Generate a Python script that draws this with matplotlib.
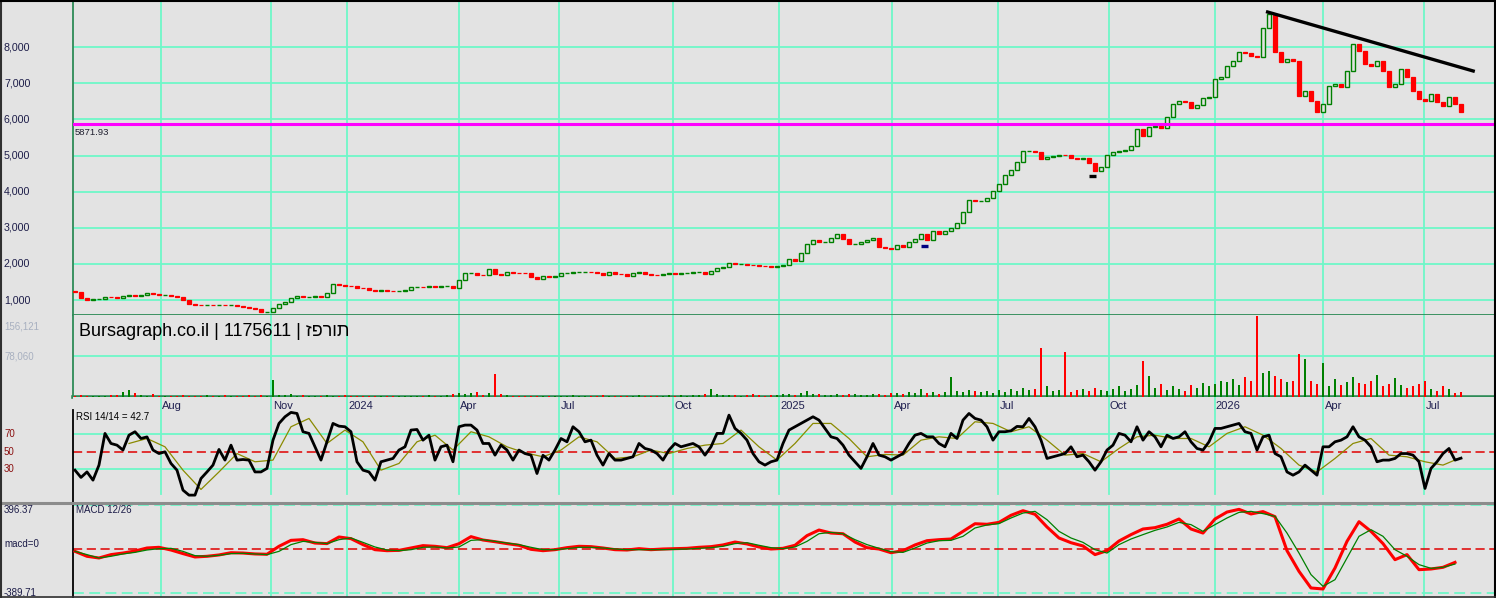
import numpy as np
import matplotlib
matplotlib.use("Agg")
import matplotlib.pyplot as plt
from matplotlib.lines import Line2D
from matplotlib.transforms import blended_transform_factory as btf

plt.rcParams['font.family'] = ['Liberation Sans', 'DejaVu Sans']

# ---------------- data ----------------
first_open = 1250
close = [
    1220, 1060, 1000, 1028, 1040, 1092, 1075, 1070, 1100, 1130,
    1120, 1150, 1184, 1160, 1138, 1138, 1115, 1080, 990, 880,
    855, 853, 860, 850, 855, 853, 860, 840, 810, 770,
    740, 680, 680, 770, 880, 950, 1060, 1120, 1092, 1092,
    1100, 1092, 1200, 1450, 1420, 1400, 1380, 1345, 1322, 1270,
    1260, 1280, 1250, 1248, 1260, 1270, 1368, 1368, 1360, 1380,
    1350, 1380, 1386, 1330, 1560, 1736, 1736, 1700, 1690, 1850,
    1720, 1700, 1780, 1754, 1750, 1736, 1640, 1590, 1660, 1644,
    1663, 1736, 1736, 1764, 1773, 1773, 1764, 1755, 1700, 1773,
    1718, 1708, 1672, 1745, 1773, 1718, 1690, 1681, 1727, 1736,
    1718, 1736, 1755, 1764, 1764, 1708, 1791, 1874, 1920, 2012,
    2003, 2003, 1966, 1957, 1938, 1929, 1920, 1929, 1975, 2123,
    2086, 2306, 2563, 2655, 2609, 2609, 2730, 2839, 2700, 2563,
    2563, 2609, 2675, 2730, 2471, 2453, 2400, 2517, 2471, 2609,
    2700, 2820, 2675, 2912, 2839, 2912, 3005, 3130, 3437, 3759,
    3730, 3740, 3832, 4017, 4220, 4450, 4605, 4817, 5120, 5120,
    5092, 4908, 4954, 4991, 5028, 5010, 4936, 4899, 4936, 4789,
    4568, 4679, 5028, 5092, 5120, 5157, 5276, 5736, 5552, 5782,
    5828, 5764, 6058, 6426, 6500, 6490, 6316, 6408, 6591, 6628,
    7116, 7180, 7484, 7622, 7852, 7824, 7760, 7714, 8541, 8909,
    7852, 7594, 7668, 7622, 6656, 6775, 6518, 6196, 6426, 6932,
    6978, 6904, 7346, 8081, 7898, 7530, 7484, 7603, 7327, 6904,
    6978, 7392, 7180, 6775, 6555, 6518, 6702, 6472, 6380, 6610,
    6426, 6196,
]
volume_k = [
    2, 3, 2, 1, 1, 2, 3, 4, 9, 13,
    7, 3, 2, 5, 2, 2, 1, 2, 3, 2,
    1, 2, 3, 1, 2, 3, 2, 1, 2, 4,
    2, 3, 2, 32, 4, 3, 5, 2, 3, 2,
    2, 1, 3, 2, 2, 3, 1, 2, 2, 1,
    2, 1, 2, 1, 2, 2, 1, 2, 2, 3,
    1, 2, 3, 6, 8, 5, 7, 10, 4, 8,
    43, 6, 3, 2, 1, 2, 2, 1, 2, 1,
    2, 1, 2, 3, 1, 2, 2, 1, 3, 2,
    1, 2, 2, 1, 3, 2, 1, 2, 2, 3,
    2, 3, 2, 4, 3, 5, 16, 6, 4, 3,
    3, 2, 4, 5, 3, 2, 3, 4, 6, 5,
    4, 7, 11, 6, 5, 4, 3, 5, 4, 6,
    5, 4, 3, 5, 6, 4, 7, 8, 6, 9,
    7, 15, 8, 10, 6, 9, 38, 12, 10, 14,
    12, 9, 11, 8, 13, 10, 16, 12, 18, 14,
    15, 93, 20, 12, 14, 86, 10, 13, 16, 12,
    18, 14, 11, 15, 20, 12, 16, 22, 69, 40,
    18, 25, 14, 20, 16, 12, 22, 18, 26, 20,
    24, 30, 28, 35, 22, 38, 30, 154, 45, 50,
    40, 35, 28, 30, 82, 72, 30, 25, 64, 20,
    35, 22, 28, 38, 26, 24, 30, 42, 20, 25,
    37, 22, 18, 20, 24, 30, 16, 12, 20, 15,
    8, 10,
]
rsi = [
    29, 20.7, 27, 17.6, 34.8, 71, 59.5, 57.6, 52, 69,
    72.9, 65.2, 67, 52, 48, 50, 36.7, 29, 6.2, 0.5,
    0.5, 19.5, 27, 34.8, 52.7, 40.5, 57.6, 40.5, 41.2, 40.5,
    27, 27, 31, 63.3, 82.4, 90, 95, 93.8, 72.9, 71,
    55.7, 40.5, 61.4, 82.4, 79.3, 78.6, 72.9, 38.6, 29, 27,
    17.6, 38.6, 40.5, 42.4, 52, 55.7, 74.8, 75.5, 63.3, 69,
    40.5, 55.7, 57.6, 38.6, 78.6, 80.5, 80.5, 74.8, 59.5, 59.5,
    46.2, 57.6, 52, 40.5, 52, 48, 46.2, 25.2, 46, 40.5,
    52, 65.2, 61.4, 78.6, 72.9, 61.4, 63.3, 46.2, 34.8, 48,
    40.5, 40.5, 42.4, 44.3, 59.5, 53.8, 52, 48, 40.5, 52,
    59.5, 55.7, 57.6, 59.5, 55.7, 46.2, 55.7, 71, 71, 91.9,
    76.7, 71, 63.3, 48, 38.6, 34.8, 38.6, 40.5, 59.5, 74.8,
    78.6, 82.4, 86.2, 90, 86.2, 76.7, 67.1, 65.2, 57.6, 46.2,
    38.6, 31, 44.3, 59.5, 46.2, 44.3, 40.5, 44.3, 48, 59.5,
    69, 71, 67.1, 67.1, 59.5, 55.7, 71, 65.2, 86.2, 93.8,
    88.1, 86.2, 78.6, 63.3, 72.9, 72.9, 74, 79, 78.6, 88.1,
    78.6, 63.3, 42.4, 44.3, 46.2, 48, 55.7, 44.3, 46.2, 38.6,
    29, 38.6, 52, 57.6, 71, 69, 61.4, 78.6, 63.3, 72.9,
    67.1, 55.7, 69, 65.2, 67.1, 72.9, 61.4, 53.8, 52, 61.4,
    76.7, 76.7, 78.6, 80.5, 82.4, 72.9, 71, 52, 67.1, 69,
    48, 44.3, 27, 23.3, 27, 34.8, 29, 23.3, 55.7, 55.7,
    61.4, 63.3, 67.1, 78.6, 67.1, 63.3, 55.7, 38.6, 40.5, 40.5,
    42.4, 48, 48, 46.2, 38.6, 8.1, 31, 38.6, 48, 53.8,
    40.5, 42.7,
]
# RSI signal: one value every 3rd bar, starting at bar 9
rsi_signal = [
    59.5, 65.2, 55.7, 29, 7, 27, 48, 38.6, 40.5, 78.6,
    88.1, 59.5, 74.8, 61.4, 29, 36.7, 61.4, 69, 52, 72.9,
    67.1, 55.7, 48.9, 44.3,
    52, 67.1, 61.4, 42.4, 44.3, 52, 48, 53.8, 57.6, 59.5,
    74.8, 55.7, 40.5, 59.5, 82.4, 82.4, 65.2, 44.3, 47, 46.2,
    63.3, 67.1, 65.2, 84.3, 82.4, 72.9,
    78.6, 63.3, 46.2, 48, 38.6, 53.8, 67.1, 69, 65.2, 65.2,
    55.7, 71, 78.6, 69, 53.8, 34.8, 27, 42.4, 59.5, 65.2,
    46.2, 44.3, 38.6, 34.8, 43.5,
]
# MACD and its signal: one value every 2nd bar
macd = [
    -19, -63, -78, -48, -34, -16, 11, 17, -7, -39,
    -69, -63, -51, -31, -34, -42, -45, 26, 79, 85,
    55, 50, 109, 94, 41, -4, -13, -10, 11, 32,
    26, 14, 49, 112, 82, 67, 50, 35, -1, -13,
    -4, 14, 26, 23, 11, -4, -7, 5, -4, 2,
    5, 8, 17, 23, 38, 64, 47, 20, 2, 8,
    35, 121, 171, 144, 138, 64, 14, 2, -31, -13,
    38, 76, 85, 91, 159, 227, 222, 239, 302, 343,
    311, 198, 100, 58, 29, -48, -13, 73, 130, 180,
    192, 222, 269, 180, 144, 269, 331, 355, 314, 335,
    290, -13, -197, -345, -354, -167, 70, 245, 159, 50,
    -93, -48, -182, -176, -161, -117,
]
macd_signal = [
    -19, -48, -78, -63, -42, -28, -7, 5, 8, -19,
    -57, -63, -54, -39, -36, -42, -48, -19, 41, 70,
    61, 50, 85, 100, 61, 20, -7, -13, -4, 17,
    20, 11, 20, 79, 85, 70, 55, 41, 17, -4,
    -4, 5, 17, 17, 11, 2, -4, -4, -4, -4,
    -1, 2, 8, 14, 26, 50, 58, 35, 14, 5,
    20, 70, 138, 150, 138, 85, 41, 8, -22, -28,
    11, 55, 76, 79, 115, 189, 216, 228, 278, 322,
    337, 263, 159, 100, 61, -4, -34, 41, 91, 130,
    168, 198, 239, 219, 159, 219, 278, 328, 337, 317,
    293, 144, -34, -226, -330, -271, -78, 115, 174, 115,
    -4, -63, -137, -170, -161, -132,
]
price_ticks = [1000, 2000, 3000, 4000, 5000, 6000, 7000, 8000]
support_level = 5871.93
trend_bar = [198.5, 233.3]
trend_price = [8985, 7327]
low_marks_bar = [141.0, 169.0]
low_marks_price = [2498, 4429]
low_marks_color = ['#000080', '#000000']
month_labels = ['Aug', 'Nov', '2024', 'Apr', 'Jul', 'Oct', '2025', 'Apr', 'Jul',
                'Oct', '2026', 'Apr', 'Jul']
month_pos = [14.28, 32.75, 45.38, 63.95, 80.72, 99.72, 117.38, 136.22, 153.88,
             172.28, 189.95, 208.05, 224.88]
vol_max = 156121
vol_mid = 78060
rsi_levels = [70, 50, 30]
macd_top, macd_bottom = 396.37, -389.71
# Hebrew name in logical order (the renderer lays it out right-to-left)
title = 'Bursagraph.co.il | 1175611 | זפרות'

# ---------------- styling ----------------
W, H = 1496, 598
BG = '#e3e3e3'
AQUA = '#6ef7c8'
GREEN = '#008000'
RED = '#ff0000'
DKGREEN = '#2e8b57'
NAVY = '#1c1c48'

fig = plt.figure(figsize=(W / 100, H / 100), dpi=100)
fig.patch.set_facecolor(BG)


def rect(x0, y0, x1, y1):
    return [x0 / W, 1 - y1 / H, (x1 - x0) / W, (y1 - y0) / H]


ax_p = fig.add_axes(rect(73, 1, 1494, 315))
ax_v = fig.add_axes(rect(73, 315, 1494, 397))
ax_r = fig.add_axes(rect(73, 397, 1494, 503))
ax_m = fig.add_axes(rect(73, 504, 1494, 597))

close = np.array(close, float)
n = len(close)
x = np.arange(n)
XL = (-0.33, 236.5)

for ax in (ax_p, ax_v, ax_r, ax_m):
    ax.set_facecolor(BG)
    ax.set_xlim(*XL)
    ax.set_xticks([])
    ax.set_yticks([])
    for s in ax.spines.values():
        s.set_visible(False)

# ---------------- price panel ----------------
ax_p.set_ylim(586, 9277)
for v in price_ticks:
    ax_p.axhline(v, color=AQUA, lw=1.3, zorder=0)
for m in month_pos:
    ax_p.axvline(m, color=AQUA, lw=1.3, zorder=0)

opens = np.r_[first_open, close[:-1]]
up = close >= opens
lo = np.minimum(opens, close)
hgt = np.abs(close - opens)
ax_p.bar(x[up], hgt[up], bottom=lo[up], width=0.78, facecolor=BG,
         edgecolor=GREEN, linewidth=1.0, zorder=3)
ax_p.bar(x[~up], hgt[~up], bottom=lo[~up], width=0.78, facecolor=RED,
         edgecolor=RED, linewidth=0.9, zorder=3)

ax_p.axhline(support_level, color='#ff00ff', lw=2.2, zorder=4)
ax_p.annotate(f'{support_level:.2f}', xy=(0, support_level),
              xycoords=btf(ax_p.transAxes, ax_p.transData),
              xytext=(2, -4), textcoords='offset pixels', va='top', ha='left',
              fontsize=6.8, color='#202030')
ax_p.plot(trend_bar, trend_price, color='black', lw=2.4, zorder=5,
          solid_capstyle='butt')
for b, p, c in zip(low_marks_bar, low_marks_price, low_marks_color):
    ax_p.plot([b, b + 1.1], [p, p], color=c, lw=2.4, zorder=5,
              solid_capstyle='butt')

ax_p.spines['left'].set_visible(True)
ax_p.spines['left'].set_color(DKGREEN)
ax_p.spines['left'].set_linewidth(1.3)
ax_p.spines['bottom'].set_visible(True)
ax_p.spines['bottom'].set_color(DKGREEN)
ax_p.spines['bottom'].set_linewidth(1.3)

tp = btf(fig.transFigure, ax_p.transData)
for v in price_ticks:
    fig.text(4 / W, v, f'{v:,}', transform=tp, va='center', ha='left',
             fontsize=7.7, color=NAVY)

# ---------------- volume panel ----------------
vol = np.array(volume_k, float) * 1000
ax_v.set_ylim(0, vol_max)
ax_v.axhline(vol_mid, color=AQUA, lw=1.3, zorder=0)
for m in month_pos:
    ax_v.axvline(m, color=AQUA, lw=1.3, zorder=0)
vcol = np.where(up, GREEN, RED)
ax_v.bar(x, vol, width=0.25, color=vcol, linewidth=0, zorder=3)
ax_v.spines['left'].set_visible(True)
ax_v.spines['left'].set_color(DKGREEN)
ax_v.spines['left'].set_linewidth(1.3)
ax_v.spines['bottom'].set_visible(True)
ax_v.spines['bottom'].set_color(DKGREEN)
ax_v.spines['bottom'].set_linewidth(2.6)
tv = btf(fig.transFigure, ax_v.transData)
fig.text(4 / W, vol_max * 0.855, f'{vol_max:,}', transform=tv, va='center',
         ha='left', fontsize=7, color='#a8b0c0')
fig.text(4 / W, vol_mid, f'{vol_mid:,}', transform=tv, va='center', ha='left',
         fontsize=7, color='#a8b0c0')
fig.text(79 / W, 1 - 331 / H, title, va='center', ha='left', fontsize=13,
         color='black')

# ---------------- RSI panel ----------------
ax_r.set_ylim(-8.5, 112.6)
for lv in (70, 30):
    ax_r.axhline(lv, color=AQUA, lw=1.3, zorder=0)
ax_r.axhline(50, color='#e00000', lw=1.1, ls=(0, (6, 3)), zorder=1)
for m in month_pos:
    ax_r.axvline(m, ymin=(503 - 494) / 106, ymax=1, color=AQUA, lw=1.3, zorder=0)
ax_r.plot(np.arange(9, n, 3), rsi_signal, color='#8a8a00', lw=0.9, zorder=3)
ax_r.plot(x, rsi, color='black', lw=2.0, zorder=4)
ax_r.spines['left'].set_visible(True)
ax_r.spines['left'].set_color('black')
ax_r.spines['left'].set_linewidth(1.3)
ax_r.spines['left'].set_bounds(-8.5, 97.8)
tr = btf(fig.transFigure, ax_r.transData)
for lv in rsi_levels:
    fig.text(4 / W, lv, f'{lv}', transform=tr, va='center', ha='left',
             fontsize=7, color='#8b1010')
fig.text(76 / W, 1 - 417 / H, f'RSI 14/14 = {rsi[-1]}', va='center', ha='left',
         fontsize=7, color='black')
tm_lab = btf(ax_r.transData, ax_r.transAxes)
for m, lab in zip(month_pos, month_labels):
    ax_r.text(m + 0.2, (503 - 406) / 106, lab, transform=tm_lab, va='center',
              ha='left', fontsize=8, color='#202050', zorder=6)

# ---------------- MACD panel ----------------
ax_m.set_ylim(-425.3, 402.6)
ax_m.axhline(macd_top, color=AQUA, lw=1.3, ls=(0, (6, 3)), zorder=0)
ax_m.axhline(macd_bottom, color=AQUA, lw=1.3, ls=(0, (6, 3)), zorder=0)
ax_m.axhline(0, color='#e00000', lw=1.1, ls=(0, (6, 3)), zorder=1)
for m in month_pos:
    ax_m.axvline(m, color=AQUA, lw=1.3, zorder=0)
xm = np.arange(0, n, 2)
ax_m.plot(xm, macd, color=RED, lw=2.2, zorder=3)
ax_m.plot(xm, macd_signal, color=GREEN, lw=0.9, zorder=4)
ax_m.spines['left'].set_visible(True)
ax_m.spines['left'].set_color('black')
ax_m.spines['left'].set_linewidth(1.3)
tmm = btf(fig.transFigure, ax_m.transData)
fig.text(4 / W, macd_top, f'{macd_top:.2f}', transform=tmm, va='top',
         ha='left', fontsize=7, color=NAVY)
fig.text(4 / W, 0, 'macd=0', transform=tmm, va='bottom', ha='left',
         fontsize=7, color=NAVY)
fig.text(4 / W, macd_bottom, f'{macd_bottom:.2f}', transform=tmm,
         va='center', ha='left', fontsize=7, color=NAVY)
fig.text(76 / W, 1 - 510 / H, 'MACD 12/26', va='center', ha='left',
         fontsize=7, color=NAVY)

# ---------------- frame lines ----------------
def fline(x0, y0, x1, y1, color, lw):
    fig.add_artist(Line2D([x0 / W, x1 / W], [1 - y0 / H, 1 - y1 / H],
                          color=color, lw=lw, transform=fig.transFigure))


fline(0, 503, W, 503, '#8c8c8c', 2.2)
fline(0.5, 0, 0.5, H, '#303030', 1.5)
fline(0, 0.5, W, 0.5, 'black', 1.5)
fline(W - 1.5, 0, W - 1.5, H, 'black', 1.5)
fline(0, H - 0.7, W, H - 0.7, '#303030', 1.2)

fig.savefig('out.png', dpi=100, facecolor=BG)
